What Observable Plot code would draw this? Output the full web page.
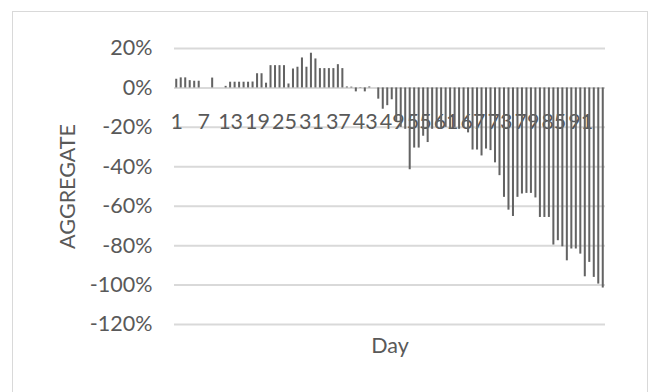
<!DOCTYPE html>
<html>
<head>
<meta charset="utf-8">
<script src="https://cdn.jsdelivr.net/npm/d3@7"></script>
<script src="https://cdn.jsdelivr.net/npm/@observablehq/plot@0.6"></script>
<style>
  html, body { margin: 0; padding: 0; background: #fff; }
  #wrap { position: relative; width: 654px; height: 392px; overflow: hidden; }
  #border { position: absolute; left: 12px; top: 11px; width: 636px; height: 400px;
            border: 1.5px solid #d9d9d9; box-sizing: border-box; pointer-events: none; }
  #chart { position: absolute; left: 0; top: 0; }
</style>
</head>
<body>
<div id="wrap"><div id="chart"></div><div id="border"></div></div>
<script>
const days = [1,2,3,4,5,6,7,8,9,10,11,12,13,14,15,16,17,18,19,20,21,22,23,24,25,26,27,28,29,30,
  31,32,33,34,35,36,37,38,39,40,41,42,43,44,45,46,47,48,49,50,51,52,53,54,55,56,57,58,59,60,
  61,62,63,64,65,66,67,68,69,70,71,72,73,74,75,76,77,78,79,80,81,82,83,84,85,86,87,88,89,90,
  91,92,93,94,95,96];

const aggregate = [
  0.044, 0.051, 0.051, 0.037, 0.034, 0.034,
  0, 0, 0.05, 0, 0, 0.008,
  0.029, 0.029, 0.029, 0.029, 0.029, 0.03,
  0.072, 0.072, 0.024, 0.113, 0.113, 0.113,
  0.113, 0.02, 0.096, 0.105, 0.152, 0.105,
  0.176, 0.147, 0.098, 0.098, 0.098, 0.098,
  0.118, 0.098, 0.005, 0.004, -0.02, 0.002,
  -0.02, 0.005, 0, -0.057, -0.108, -0.09,
  -0.06, -0.17, -0.2, -0.21, -0.415, -0.305,
  -0.305, -0.245, -0.277, -0.21, -0.2, -0.21,
  -0.2, -0.21, -0.2, -0.21, -0.2, -0.228,
  -0.315, -0.315, -0.345, -0.31, -0.318, -0.38,
  -0.445, -0.555, -0.62, -0.652, -0.555, -0.538,
  -0.535, -0.535, -0.558, -0.657, -0.657, -0.657,
  -0.797, -0.775, -0.806, -0.877, -0.817, -0.817,
  -0.843, -0.958, -0.885, -0.961, -0.995, -1.015
];

const xTickLabels = [1, 7, 13, 19, 25, 31, 37, 43, 49, 55, 61, 67, 73, 79, 85, 91];
const yTicks = [-1.2, -1.0, -0.8, -0.6, -0.4, -0.2, 0, 0.2];
const yTitle = "AGGREGATE";
const xTitle = "Day";

const data = days.map((d, i) => ({day: d, value: aggregate[i]}));
const textColor = "#595959";
const font = "Lato, 'Open Sans', sans-serif";
const fs = 21.5;

const chart = Plot.plot({
  width: 654,
  height: 392,
  marginLeft: 174,
  marginRight: 49,
  marginTop: 48,
  marginBottom: 68,
  style: {fontFamily: font, fontSize: fs + "px", color: textColor, background: "white", overflow: "visible"},
  x: {type: "band", domain: days, paddingInner: 0.55, paddingOuter: 0.275, axis: null},
  y: {domain: [-1.2, 0.2], axis: null},
  marks: [
    Plot.ruleY(yTicks, {stroke: "#d9d9d9", strokeWidth: 2}),
    Plot.axisY({ticks: yTicks, tickSize: 0, tickPadding: 22, label: null, fontSize: fs,
      tickFormat: d => Math.round(d * 100) + "%"}),
    Plot.text(xTickLabels, {x: d => d, y: 0, dy: 34, text: d => String(d), fontSize: fs, fill: textColor}),
    Plot.barY(data, {x: "day", y: "value", fill: "#636363"}),
    Plot.text([yTitle], {frameAnchor: "left", dx: -106, rotate: -90, textAnchor: "middle", lineAnchor: "middle",
      text: d => d, fontSize: fs, fill: textColor}),
    Plot.text([xTitle], {frameAnchor: "bottom", dy: 22, textAnchor: "middle", lineAnchor: "middle",
      text: d => d, fontSize: fs, fill: textColor})
  ]
});
document.getElementById("chart").appendChild(chart);
</script>
</body>
</html>
